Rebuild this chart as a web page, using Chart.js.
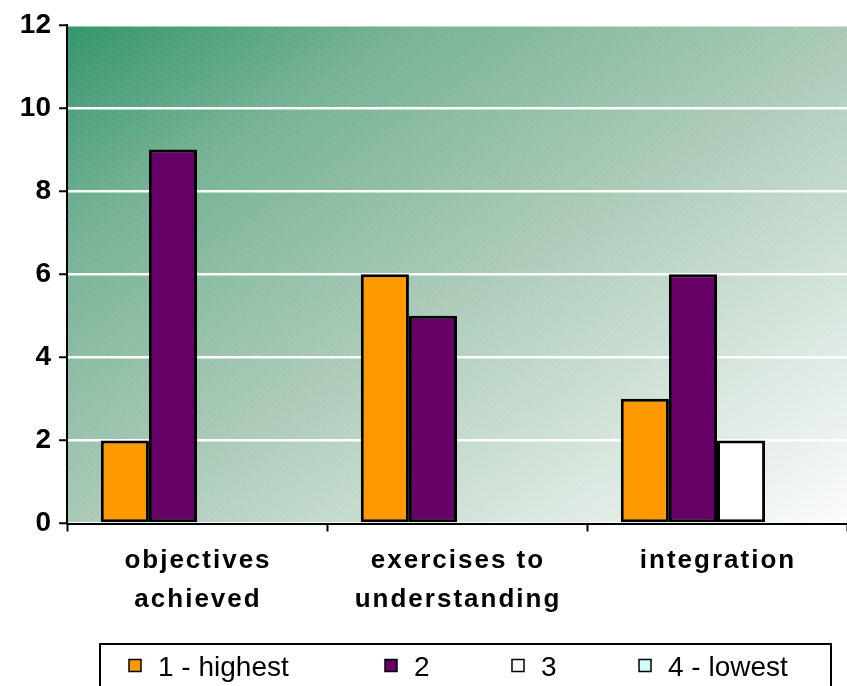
<!DOCTYPE html>
<html>
<head>
<meta charset="utf-8">
<script src="https://cdn.jsdelivr.net/npm/chart.js@4.4.1/dist/chart.umd.min.js"></script>
<style>
html,body{margin:0;padding:0;background:#fff;}
canvas{display:block;}
</style>
</head>
<body>
<canvas id="c" width="847" height="686"></canvas>
<script>
const categories = [["objectives","achieved"],["exercises to","understanding"],["integration"]];
const seriesNames = ["1 - highest","2","3","4 - lowest"];
const seriesColors = ["#ff9900","#660066","#ffffff","#ccffff"];
const values1 = [2, 6, 3];
const values2 = [9, 5, 6];
const values3 = [0, 0, 2];
const values4 = [0, 0, 0];
const yTicks = [0, 2, 4, 6, 8, 10, 12];

const FONT = '"Liberation Sans", Arial, sans-serif';

const bgPlugin = {
  id: 'bg',
  beforeDraw(chart) {
    const {ctx, chartArea: a} = chart;
    const w = a.right - a.left, h = a.bottom - a.top;
    const cx = (a.left + a.right) / 2, cy = (a.top + a.bottom) / 2;
    const k = (w * h) / (h * h + w * w);
    const g = ctx.createLinearGradient(cx - h * k, cy - w * k, cx + h * k, cy + w * k);
    g.addColorStop(0, '#33956a');
    g.addColorStop(0.22, '#76b394');
    g.addColorStop(0.5, '#a8c9b6');
    g.addColorStop(0.78, '#d8e6de');
    g.addColorStop(1, '#fbfcfb');
    ctx.save();
    ctx.fillStyle = g;
    ctx.fillRect(a.left, a.top, w, h);
    ctx.beginPath();
    ctx.rect(a.left, a.top, w, h);
    ctx.clip();
    ctx.strokeStyle = 'rgba(255,255,255,0.07)';
    ctx.lineWidth = 1;
    for (let x = a.left - h; x < a.right; x += 6) {
      ctx.beginPath();
      ctx.moveTo(x, a.bottom);
      ctx.lineTo(x + h, a.top);
      ctx.stroke();
    }
    ctx.restore();
  }
};

const labelPlugin = {
  id: 'xlabels',
  afterDraw(chart) {
    const {ctx} = chart;
    const xs = chart.scales.x;
    ctx.save();
    ctx.fillStyle = '#000';
    ctx.font = 'bold 26px ' + FONT;
    ctx.textAlign = 'center';
    ctx.textBaseline = 'alphabetic';
    try { ctx.letterSpacing = '2px'; } catch (e) {}
    chart.data.labels.forEach((lab, i) => {
      const x = xs.getPixelForValue(i) + 1;
      const lines = Array.isArray(lab) ? lab : [lab];
      lines.forEach((ln, j) => {
        ctx.fillText(ln, x, xs.top + 44 + j * 39);
      });
    });
    try { ctx.letterSpacing = '0px'; } catch (e) {}

    // legend
    const top = 644;
    ctx.lineWidth = 2;
    ctx.strokeStyle = '#000';
    ctx.strokeRect(100, top, 731, 60);
    const starts = [129, 385, 512, 639];
    ctx.font = '28px ' + FONT;
    ctx.textAlign = 'left';
    chart.data.datasets.forEach((ds, i) => {
      const x = starts[i];
      ctx.fillStyle = ds.backgroundColor;
      ctx.fillRect(x, 659.5, 12, 12);
      ctx.lineWidth = 1.5;
      ctx.strokeRect(x, 659.5, 12, 12);
      ctx.fillStyle = '#000';
      ctx.fillText(ds.label, x + 29, 676);
    });
    ctx.restore();
  }
};

const datasets = [values1, values2, values3, values4].map((v, i) => ({
  label: seriesNames[i],
  data: v,
  backgroundColor: seriesColors[i],
  borderColor: '#000',
  borderWidth: 3,
  borderSkipped: false,
  categoryPercentage: 0.74,
  barPercentage: 1
}));

new Chart(document.getElementById('c'), {
  type: 'bar',
  data: { labels: categories, datasets },
  options: {
    responsive: false,
    animation: false,
    devicePixelRatio: 1,
    layout: { padding: { top: 23, left: 0, right: 0, bottom: 0 } },
    plugins: { legend: { display: false }, tooltip: { enabled: false } },
    scales: {
      x: {
        grid: { display: true, offset: true, drawOnChartArea: false, tickColor: '#000', tickLength: 8, tickWidth: 2 },
        border: { display: true, color: '#000', width: 2 },
        ticks: { color: 'rgba(0,0,0,0)', font: { size: 26, weight: 'bold', family: FONT } },
        afterFit(s) { s.height = 162.5; }
      },
      y: {
        min: 0, max: 12,
        afterBuildTicks(s) { s.ticks = yTicks.map(v => ({ value: v })); },
        grid: { color: '#ffffff', lineWidth: 2.5, tickColor: '#000', tickLength: 8, tickWidth: 2 },
        border: { display: true, color: '#000', width: 2 },
        ticks: { color: '#000', padding: 8, font: { size: 28, weight: 'bold', family: FONT } },
        afterFit(s) { s.width = 67; }
      }
    }
  },
  plugins: [bgPlugin, labelPlugin]
});
</script>
</body>
</html>
